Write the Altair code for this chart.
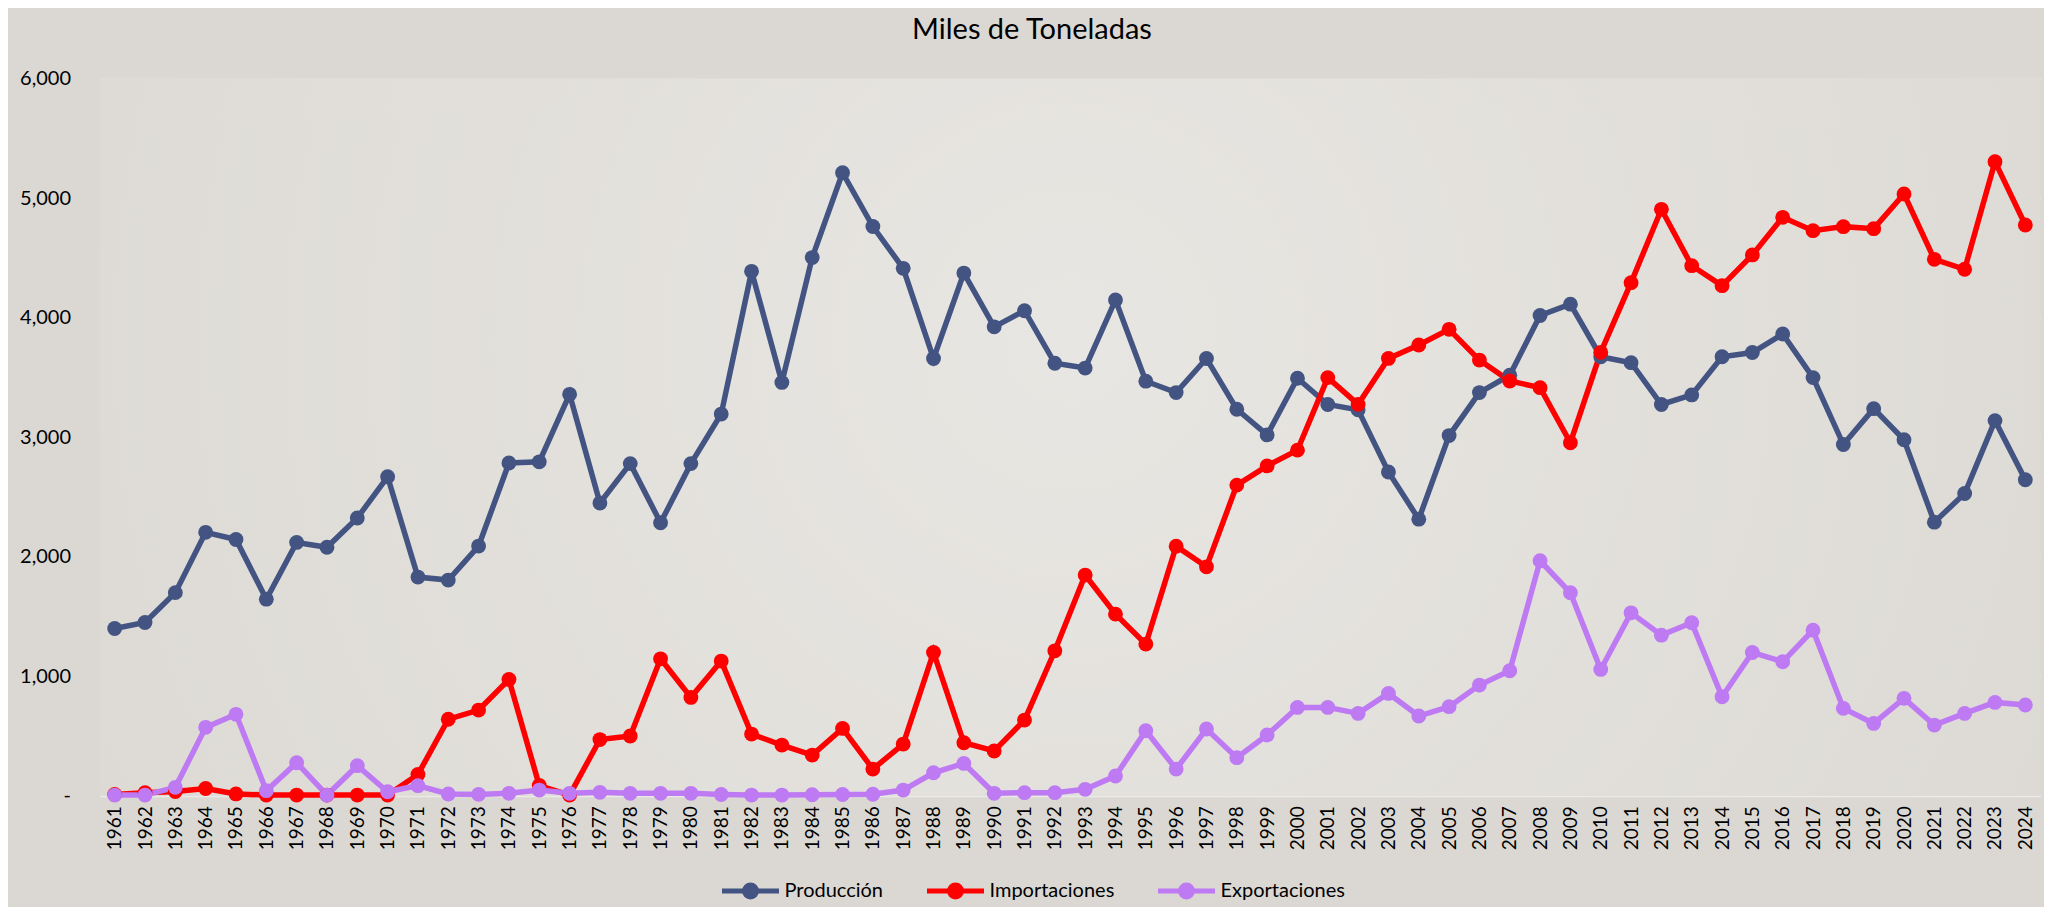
import altair as alt
import pandas as pd

years = list(range(1961, 2025))

produccion = [1400, 1450, 1700, 2205, 2145, 1645, 2120, 2080, 2325, 2670,
              1830, 1805, 2090, 2785, 2795, 3360, 2450, 2780, 2285, 2780,
              3195, 4390, 3460, 4505, 5215, 4765, 4415, 3660, 4375, 3925,
              4060, 3620, 3580, 4150, 3470, 3375, 3660, 3235, 3020, 3495,
              3275, 3230, 2710, 2315, 3015, 3375, 3520, 4020, 4115, 3675,
              3625, 3275, 3355, 3675, 3710, 3865, 3500, 2940, 3240, 2980,
              2290, 2530, 3140, 2645]

importaciones = [10, 25, 35, 60, 15, 5, 5, 5, 5, 5,
                 178, 640, 717, 973, 85, 5, 470, 500, 1146, 823,
                 1127, 516, 424, 340, 563, 223, 432, 1199, 443, 374,
                 633, 1213, 1847, 1520, 1269, 2089, 1916, 2600, 2761, 2893,
                 3500, 3276, 3661, 3773, 3904, 3647, 3472, 3416, 2955, 3712,
                 4295, 4909, 4437, 4270, 4527, 4842, 4730, 4764, 4747, 5037,
                 4490, 4407, 5308, 4778]

exportaciones = [5, 5, 70, 572, 681, 42, 276, 5, 251, 33,
                 84, 14, 11, 20, 47, 20, 28, 20, 20, 20,
                 10, 5, 5, 8, 10, 12, 47, 192, 270, 20,
                 25, 25, 53, 165, 544, 223, 558, 318, 508, 739,
                 739, 689, 856, 667, 745, 926, 1046, 1967, 1699, 1057,
                 1531, 1344, 1448, 828, 1199, 1121, 1386, 731, 605, 815,
                 591, 689, 781, 759]

series_names = ["Producción", "Importaciones", "Exportaciones"]
series_colors = ["#435482", "#ff0000", "#bd7af2"]
y_ticks = [0, 1000, 2000, 3000, 4000, 5000, 6000]

rows = []
for name, vals in zip(series_names, [produccion, importaciones, exportaciones]):
    for yr, v in zip(years, vals):
        rows.append({"Año": str(yr), "Serie": name, "Valor": v})
df = pd.DataFrame(rows)

FONT = "Lato"

bg = alt.Chart(alt.Data(values=[{}])).mark_rect(
    fill=alt.RadialGradient(
        gradient="radial", x1=0.5, y1=0.45, r1=0.0, x2=0.5, y2=0.45, r2=0.75,
        stops=[alt.GradientStop(offset=0, color="#e8e6e2"),
               alt.GradientStop(offset=1, color="#d9d6d1")]
    )
).encode(x=alt.value(0), x2=alt.value("width"), y=alt.value(0), y2=alt.value("height"))

legend_path = ("M-1,0L1,0"
               "M0.21,0A0.21,0.21,0,1,1,-0.21,0A0.21,0.21,0,1,1,0.21,0"
               "M0.07,0A0.07,0.07,0,1,1,-0.07,0A0.07,0.07,0,1,1,0.07,0")

lines = alt.Chart(df).mark_line(
    strokeWidth=5.5,
    point=alt.OverlayMarkDef(filled=True, size=220, opacity=1),
).encode(
    x=alt.X("Año:O", scale=alt.Scale(type="point", padding=0.5),
            axis=alt.Axis(title=None, labelAngle=-90, labelFontSize=19, labelFont=FONT,
                          labelColor="#000000", ticks=False, domain=False, grid=False,
                          labelPadding=10, labelBaseline="middle", labelAlign="right")),
    y=alt.Y("Valor:Q", scale=alt.Scale(domain=[0, 6000], nice=False),
            axis=alt.Axis(title=None, values=y_ticks, labelFontSize=20, labelFont=FONT,
                          labelColor="#000000", ticks=False, domain=False,
                          gridColor="#ebeae8", gridWidth=1.5, labelPadding=29,
                          labelExpr="datum.value == 0 ? '-\u00a0\u00a0\u00a0' : format(datum.value, ',')")),
    color=alt.Color("Serie:N", sort=series_names,
                    scale=alt.Scale(domain=series_names, range=series_colors),
                    legend=alt.Legend(title=None, orient="none", direction="horizontal",
                                      legendX=620, legendY=781,
                                      symbolType=legend_path, symbolSize=3249,
                                      symbolStrokeWidth=5, labelFontSize=20,
                                      labelFont=FONT, labelColor="#000000",
                                      labelOffset=3, columnPadding=33, padding=0)),
    order=alt.Order("Año:O"),
)

chart = alt.layer(bg, lines).properties(
    width=1941, height=716.7,
    padding={"left": 91.5, "top": 71, "right": 3, "bottom": 111},
    autosize=alt.AutoSizeParams(type="none"),
    title=alt.TitleParams("Miles de Toneladas", fontSize=29, font=FONT, fontWeight="normal",
                          color="#000000", anchor="middle", dx=-38, offset=24),
    background="#dbd8d3",
).configure_view(strokeWidth=0)

chart.save("out.html", embed_options={"renderer": "svg", "actions": False})
